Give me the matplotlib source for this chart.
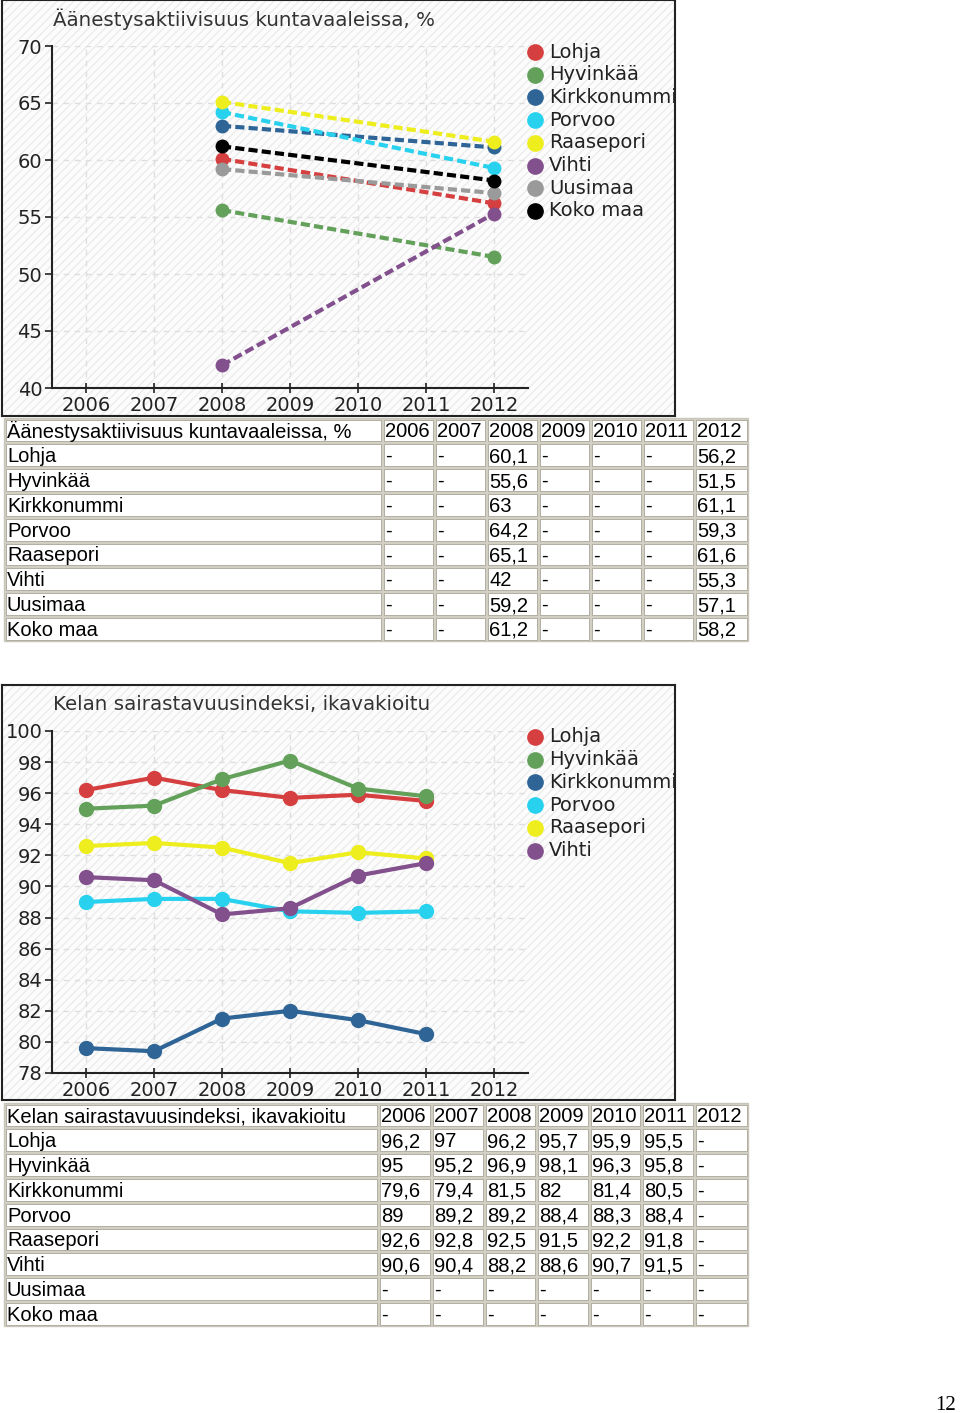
import numpy as np
import matplotlib.pyplot as plt
from matplotlib.patches import Rectangle

W, H = 960, 1413

years = [2006, 2007, 2008, 2009, 2010, 2011, 2012]
places = ['Lohja', 'Hyvinkää', 'Kirkkonummi', 'Porvoo', 'Raasepori',
          'Vihti', 'Uusimaa', 'Koko maa']
colors = ['#d63f3f', '#63a15b', '#2f6596', '#28d2ee', '#eeee1e',
          '#82508d', '#9a9a9a', '#000000']

# voting activity, only 2008 and 2012 elections
vote_title = 'Äänestysaktiivisuus kuntavaaleissa, %'
vote_years = [2008, 2012]
vote_2008 = [60.1, 55.6, 63, 64.2, 65.1, 42, 59.2, 61.2]
vote_2012 = [56.2, 51.5, 61.1, 59.3, 61.6, 55.3, 57.1, 58.2]

# sickness index, None = no value
sick_title = 'Kelan sairastavuusindeksi, ikavakioitu'
sick_lohja = [96.2, 97, 96.2, 95.7, 95.9, 95.5, None]
sick_hyvinkaa = [95, 95.2, 96.9, 98.1, 96.3, 95.8, None]
sick_kirkkonummi = [79.6, 79.4, 81.5, 82, 81.4, 80.5, None]
sick_porvoo = [89, 89.2, 89.2, 88.4, 88.3, 88.4, None]
sick_raasepori = [92.6, 92.8, 92.5, 91.5, 92.2, 91.8, None]
sick_vihti = [90.6, 90.4, 88.2, 88.6, 90.7, 91.5, None]
sick_uusimaa = [None, None, None, None, None, None, None]
sick_kokomaa = [None, None, None, None, None, None, None]
sick_rows = [sick_lohja, sick_hyvinkaa, sick_kirkkonummi, sick_porvoo,
             sick_raasepori, sick_vihti, sick_uusimaa, sick_kokomaa]

CHART_FONT = ['DejaVu Sans']
TABLE_FONT = ['Liberation Sans', 'DejaVu Sans']


def px_rect(x0, y0, x1, y1):
    return [x0 / W, 1 - y1 / H, (x1 - x0) / W, (y1 - y0) / H]


def fmt(v):
    if v is None:
        return '-'
    return str(v).replace('.', ',')


fig = plt.figure(figsize=(W / 100, H / 100), dpi=100)
fig.patch.set_facecolor('white')

# page axes in pixel coords for tables and page number
page = fig.add_axes([0, 0, 1, 1])
page.set_xlim(0, W)
page.set_ylim(H, 0)
page.axis('off')


def chart_frame(x0, y0, x1, y1, title, names, cols):
    fr = fig.add_axes(px_rect(x0, y0, x1, y1))
    fr.set_xlim(0, x1 - x0)
    fr.set_ylim(y1 - y0, 0)
    fr.set_xticks([])
    fr.set_yticks([])
    fr.set_facecolor('#fcfcfc')
    fr.add_patch(Rectangle((0, 0), x1 - x0, y1 - y0, facecolor='none',
                           edgecolor='#ececec', hatch='////', lw=0))
    for s in fr.spines.values():
        s.set_color('#222222')
        s.set_linewidth(1.5)
    fr.text(51, 19, title, fontsize=14.3, family=CHART_FONT, color='#333333',
            va='center', ha='left')
    for i, (n, c) in enumerate(zip(names, cols)):
        yy = 52 + i * 22.7
        fr.plot([533], [yy], 'o', ms=11, color=c, clip_on=True)
        fr.text(547, yy, n, fontsize=14, family=CHART_FONT, color='#222222',
                va='center', ha='left', clip_on=True)
    return fr


def chart_axes(y0, y1, ylo, yhi, step):
    ax = fig.add_axes(px_rect(52, y0, 528, y1))
    ax.set_facecolor('none')
    ax.set_xlim(2005.5, 2012.5)
    ax.set_ylim(ylo, yhi)
    ax.set_xticks(years)
    ax.set_yticks(np.arange(ylo, yhi + 1, step))
    ax.grid(True, color='#dedede', ls=(0, (4, 4)), lw=1)
    for s in ['top', 'right']:
        ax.spines[s].set_visible(False)
    for s in ['left', 'bottom']:
        ax.spines[s].set_color('#222222')
        ax.spines[s].set_linewidth(1.5)
    ax.tick_params(axis='y', direction='out', length=5, width=1.2, pad=2,
                   colors='#222222', labelsize=14)
    ax.tick_params(axis='x', direction='inout', length=7, width=1.2, pad=2,
                   colors='#222222', labelsize=14)
    for lab in ax.get_xticklabels() + ax.get_yticklabels():
        lab.set_family(CHART_FONT)
    return ax


# chart 1: voting activity
chart_frame(2, 0, 675, 416, vote_title, places, colors)
ax1 = chart_axes(46, 388, 40, 70, 5)
for i, (n, c) in enumerate(zip(places, colors)):
    ax1.plot(vote_years, [vote_2008[i], vote_2012[i]], color=c, lw=3,
             ls=(0, (2.2, 1)), marker='o', ms=9, clip_on=False)

# chart 2: sickness index
sick_names = places[:6]
chart_frame(2, 685, 675, 1100, sick_title, sick_names, colors[:6])
ax2 = chart_axes(731, 1073, 78, 100, 2)
for i, (n, c) in enumerate(zip(sick_names, colors[:6])):
    vals = [np.nan if v is None else v for v in sick_rows[i]]
    ax2.plot(years, vals, color=c, lw=3, marker='o', ms=10, clip_on=False)


def draw_table(y0, edges, title, rows):
    rh = 24.8
    nrows = len(rows) + 1
    page.add_patch(Rectangle((edges[0], y0), edges[-1] - edges[0], rh * nrows,
                             facecolor='#d2cfc4', edgecolor='#c8c5ba', lw=1))
    header = [title] + [str(y) for y in years]
    body = [[places[r]] + [fmt(v) for v in rows[r]] for r in range(len(rows))]
    for r, cells in enumerate([header] + body):
        top = y0 + r * rh
        for c, txt in enumerate(cells):
            x0, x1 = edges[c], edges[c + 1]
            page.add_patch(Rectangle((x0 + 1.5, top + 1.5), x1 - x0 - 3, rh - 3,
                                     facecolor='white', edgecolor='#a9a697',
                                     lw=0.6))
            page.text(x0 + 3, top + rh / 2 + 1.5, txt, fontsize=14.5,
                      family=TABLE_FONT, color='black', ha='left', va='center')


vote_rows = []
for i in range(len(places)):
    row = []
    for y in years:
        if y == 2008:
            row.append(vote_2008[i])
        elif y == 2012:
            row.append(vote_2012[i])
        else:
            row.append(None)
    vote_rows.append(row)

draw_table(418, [4, 382, 434, 486, 538, 590, 642, 694, 748], vote_title, vote_rows)
draw_table(1103, [4, 378, 431, 484, 536, 589, 641, 694, 748], sick_title, sick_rows)

page.text(946, 1405, '12', fontsize=15, family=['Liberation Serif'],
          ha='center', va='center', color='black')

fig.savefig('out.png', dpi=100)
